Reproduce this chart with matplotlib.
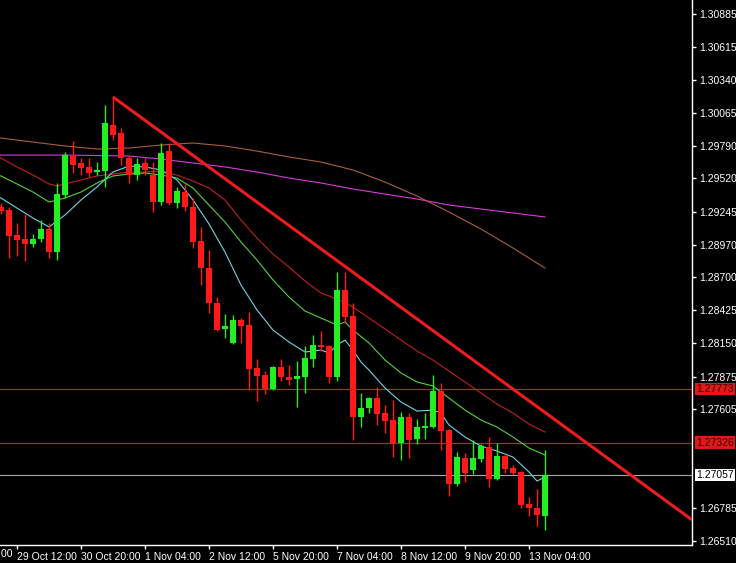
import numpy as np
import matplotlib.pyplot as plt
import matplotlib.transforms as mtransforms

# H4 candles, oldest first
opens = [1.29283, 1.29258, 1.29050, 1.29017, 1.28975, 1.29017, 1.29100, 1.28909, 1.29382, 1.29706,
         1.29648, 1.29615, 1.29573, 1.29581, 1.29963, 1.29897, 1.29689, 1.29548, 1.29648, 1.29548,
         1.29324, 1.29747, 1.29316, 1.29407, 1.29283, 1.29000, 1.28776, 1.28486, 1.28270, 1.28154,
         1.28345, 1.28303, 1.27946, 1.27888, 1.27772, 1.27954, 1.27871, 1.27855, 1.27871, 1.28021,
         1.28137, 1.28129, 1.27871, 1.28594, 1.28378, 1.27539, 1.27614, 1.27697, 1.27572, 1.27514,
         1.27323, 1.27539, 1.27357, 1.27448, 1.27456, 1.27755, 1.27431, 1.26983, 1.27199, 1.27099,
         1.27191, 1.27290, 1.27025, 1.27215, 1.27116, 1.27083, 1.26817, 1.26784, 1.26717]
highs = [1.29316, 1.29283, 1.29150, 1.29224, 1.29058, 1.29175, 1.29150, 1.29482, 1.29739, 1.29830,
         1.29689, 1.29689, 1.29656, 1.30129, 1.30196, 1.29938, 1.29714, 1.29689, 1.29689, 1.29656,
         1.29814, 1.29814, 1.29449, 1.29474, 1.29357, 1.29117, 1.28926, 1.28535, 1.28394, 1.28386,
         1.28361, 1.28411, 1.28021, 1.27921, 1.27963, 1.28021, 1.27971, 1.28004, 1.28129, 1.28220,
         1.28253, 1.28137, 1.28743, 1.28743, 1.28486, 1.27738, 1.27705, 1.27788, 1.27639, 1.27680,
         1.27581, 1.27572, 1.27523, 1.27572, 1.27888, 1.27822, 1.27440, 1.27249, 1.27240, 1.27348,
         1.27315, 1.27373, 1.27323, 1.27224, 1.27141, 1.27091, 1.26875, 1.26942, 1.27265]
lows = [1.29224, 1.28859, 1.28876, 1.28834, 1.28950, 1.28992, 1.28859, 1.28843, 1.29357, 1.29565,
        1.29548, 1.29532, 1.29548, 1.29449, 1.29839, 1.29631, 1.29482, 1.29507, 1.29548, 1.29241,
        1.29299, 1.29299, 1.29274, 1.29249, 1.28942, 1.28635, 1.28403, 1.28253, 1.28195, 1.28145,
        1.28154, 1.27763, 1.27672, 1.27730, 1.27763, 1.27838, 1.27805, 1.27622, 1.27738, 1.27954,
        1.28087, 1.27822, 1.27838, 1.28320, 1.27348, 1.27456, 1.27572, 1.27473, 1.27406, 1.27207,
        1.27182, 1.27199, 1.27315, 1.27357, 1.27448, 1.27265, 1.26883, 1.26966, 1.27000, 1.27066,
        1.27166, 1.26958, 1.27016, 1.27074, 1.27058, 1.26784, 1.26717, 1.26634, 1.26601]
closes = [1.29249, 1.29042, 1.29009, 1.28975, 1.29017, 1.29100, 1.28909, 1.29390, 1.29714, 1.29631,
          1.29606, 1.29565, 1.29590, 1.29980, 1.29880, 1.29689, 1.29548, 1.29640, 1.29590, 1.29324,
          1.29731, 1.29316, 1.29415, 1.29283, 1.28992, 1.28776, 1.28486, 1.28261, 1.28295, 1.28345,
          1.28295, 1.27938, 1.27880, 1.27772, 1.27954, 1.27871, 1.27846, 1.27880, 1.28029, 1.28137,
          1.28120, 1.27871, 1.28594, 1.28369, 1.27539, 1.27614, 1.27697, 1.27564, 1.27506, 1.27323,
          1.27539, 1.27348, 1.27456, 1.27465, 1.27755, 1.27423, 1.26983, 1.27207, 1.27074, 1.27199,
          1.27298, 1.27025, 1.27215, 1.27108, 1.27074, 1.26809, 1.26784, 1.26726, 1.27057]

# moving averages (bar index, price)
cyanBars = [-1, 0, 2, 4, 6, 8, 10, 12, 14, 16, 18, 20, 22, 24, 26, 28, 30, 32, 34, 36, 38, 40, 41, 42,
            43, 44, 45, 46, 48, 50, 52, 54, 55, 56, 58, 60, 62, 64, 66, 67, 68]
cyanVals = [1.29390, 1.29357, 1.29274, 1.29191, 1.29117, 1.29216, 1.29341, 1.29449, 1.29573, 1.29623,
            1.29615, 1.29590, 1.29507, 1.29341, 1.29142, 1.28909, 1.28635, 1.28428, 1.28261, 1.28162,
            1.28079, 1.28095, 1.28071, 1.28137, 1.28178, 1.28095, 1.27996, 1.27929, 1.27780, 1.27664,
            1.27589, 1.27597, 1.27572, 1.27473, 1.27373, 1.27298, 1.27257, 1.27207, 1.27083, 1.27008,
            1.27041]
greenBars = [-1, 0, 2, 4, 6, 8, 10, 12, 14, 16, 18, 20, 22, 24, 26, 28, 30, 32, 34, 36, 38, 40, 42, 43,
             44, 46, 48, 50, 52, 54, 56, 58, 60, 62, 64, 66, 68]
greenVals = [1.29557, 1.29540, 1.29474, 1.29407, 1.29324, 1.29357, 1.29407, 1.29482, 1.29540, 1.29557,
             1.29565, 1.29548, 1.29523, 1.29440, 1.29299, 1.29158, 1.28992, 1.28843, 1.28677, 1.28535,
             1.28419, 1.28361, 1.28303, 1.28328, 1.28261, 1.28154, 1.28012, 1.27905, 1.27830, 1.27797,
             1.27697, 1.27597, 1.27514, 1.27456, 1.27373, 1.27282, 1.27224]
redBars = [-1, 0, 2, 4, 6, 7, 8, 10, 12, 14, 16, 18, 20, 22, 24, 26, 28, 30, 32, 34, 36, 38, 40, 42,
           44, 46, 48, 50, 52, 54, 56, 58, 60, 62, 64, 66, 68]
redVals = [1.29723, 1.29689, 1.29615, 1.29548, 1.29474, 1.29457, 1.29474, 1.29507, 1.29540, 1.29557,
           1.29573, 1.29573, 1.29581, 1.29548, 1.29498, 1.29440, 1.29341, 1.29175, 1.29025, 1.28892,
           1.28785, 1.28668, 1.28569, 1.28519, 1.28452, 1.28361, 1.28270, 1.28178, 1.28087, 1.28012,
           1.27921, 1.27830, 1.27738, 1.27647, 1.27572, 1.27481, 1.27415]
brownBars = [-1, 0, 4, 8, 12, 16, 20, 24, 28, 32, 36, 40, 44, 48, 52, 56, 60, 64, 68]
brownVals = [1.29864, 1.29855, 1.29822, 1.29789, 1.29764, 1.29772, 1.29797, 1.29814, 1.29789, 1.29747,
             1.29698, 1.29656, 1.29590, 1.29490, 1.29374, 1.29241, 1.29100, 1.28942, 1.28776]
magentaBars = [-1, 0, 8, 16, 20, 24, 28, 32, 36, 40, 44, 48, 52, 56, 60, 64, 68]
magentaVals = [1.29714, 1.29714, 1.29714, 1.29706, 1.29681, 1.29648, 1.29615, 1.29573, 1.29523, 1.29482,
               1.29432, 1.29390, 1.29349, 1.29299, 1.29266, 1.29233, 1.29200]

# trend line (ray) anchors
trendBars = [14, 72.375]
trendVals = [1.30196, 1.27365]

# horizontal levels
levels = [1.27773, 1.27326]
bidPrice = 1.27057

yTicks = [1.30885, 1.30615, 1.30340, 1.30065, 1.29790, 1.29520, 1.29245, 1.28970, 1.28700,
          1.28425, 1.28150, 1.27875, 1.27605, 1.26785, 1.26510]
xTickBars = [2, 10, 18, 26, 34, 42, 50, 58, 66]
xTickLabels = ['29 Oct 12:00', '30 Oct 20:00', '1 Nov 04:00', '2 Nov 12:00', '5 Nov 20:00',
               '7 Nov 04:00', '8 Nov 12:00', '9 Nov 20:00', '13 Nov 04:00']

FONT = 'Liberation Sans'
BULL = '#22ee22'
BEAR = '#ff1a1a'


def plotCandles(ax):
    x = np.arange(len(opens))
    o = np.array(opens)
    c = np.array(closes)
    up = c >= o
    cols = np.where(up, BULL, BEAR)
    ax.vlines(x, lows, highs, colors=cols, linewidth=1.0, zorder=4)
    bottom = np.minimum(o, c)
    height = np.maximum(np.abs(c - o), 0.00004)
    ax.bar(x, height, bottom=bottom, width=0.64, color=cols, linewidth=0, zorder=5)


def main():
    fig = plt.figure(figsize=(7.36, 5.63), dpi=100, facecolor='black')
    ax = fig.add_axes([0, 18 / 563, 692 / 736, 545 / 563], facecolor='black')

    ax.plot(magentaBars, magentaVals, color='#d83cd8', linewidth=0.8, zorder=2)
    ax.plot(brownBars, brownVals, color='#a8603a', linewidth=0.8, zorder=2)
    ax.plot(redBars, redVals, color='#c02020', linewidth=0.8, zorder=2)
    ax.plot(greenBars, greenVals, color='#58d038', linewidth=0.8, zorder=2)
    ax.plot(cyanBars, cyanVals, color='#70d4e4', linewidth=0.8, zorder=2)

    for lv in levels:
        ax.axhline(lv, color='#c81e1e', linewidth=0.9, zorder=1)
    ax.axhline(bidPrice, color='#a8a8a8', linewidth=0.8, zorder=1)

    plotCandles(ax)

    # ray: extend the two anchors to the right edge
    slope = (trendVals[1] - trendVals[0]) / (trendBars[1] - trendBars[0])
    xEnd = 90
    ax.plot([trendBars[0], xEnd], [trendVals[0], trendVals[0] + slope * (xEnd - trendBars[0])],
            color='#ee1c1c', linewidth=2.2, solid_capstyle='butt', zorder=6)

    ax.set_xlim(-0.125, 86.375)
    ax.set_ylim(1.26477, 1.31001)

    for s in ['top', 'left']:
        ax.spines[s].set_visible(False)
    for s in ['right', 'bottom']:
        ax.spines[s].set_color('white')
        ax.spines[s].set_linewidth(1.0)

    ax.yaxis.tick_right()
    ax.set_yticks(yTicks)
    ax.set_yticklabels(['%.5f' % v for v in yTicks])
    ax.set_xticks(xTickBars)
    ax.set_xticklabels(xTickLabels, ha='left')
    ax.tick_params(colors='white', length=3, width=1.0, labelsize=7.5, pad=2)
    for lab in ax.get_xticklabels() + ax.get_yticklabels():
        lab.set_fontfamily(FONT)
        lab.set_color('white')

    # price boxes on the right scale
    tr = mtransforms.blended_transform_factory(ax.transAxes, ax.transData)
    for lv in levels:
        ax.text(1.006, lv, '%.5f' % lv, transform=tr, ha='left', va='center', fontsize=7.5,
                family=FONT, color='#3a0000', clip_on=False,
                bbox=dict(facecolor='#e01818', edgecolor='none', pad=1.0), zorder=10)
    ax.text(1.006, bidPrice, '%.5f' % bidPrice, transform=tr, ha='left', va='center', fontsize=7.5,
            family=FONT, color='black', clip_on=False,
            bbox=dict(facecolor='white', edgecolor='none', pad=1.0), zorder=10)

    # first date label cut off at the left edge
    fig.text(-47 / 736, 9 / 563, '26 Oct 04:00', color='white', fontsize=7.5, family=FONT,
             ha='left', va='center')

    fig.savefig('out.png', dpi=100, facecolor='black')


if __name__ == '__main__':
    main()
